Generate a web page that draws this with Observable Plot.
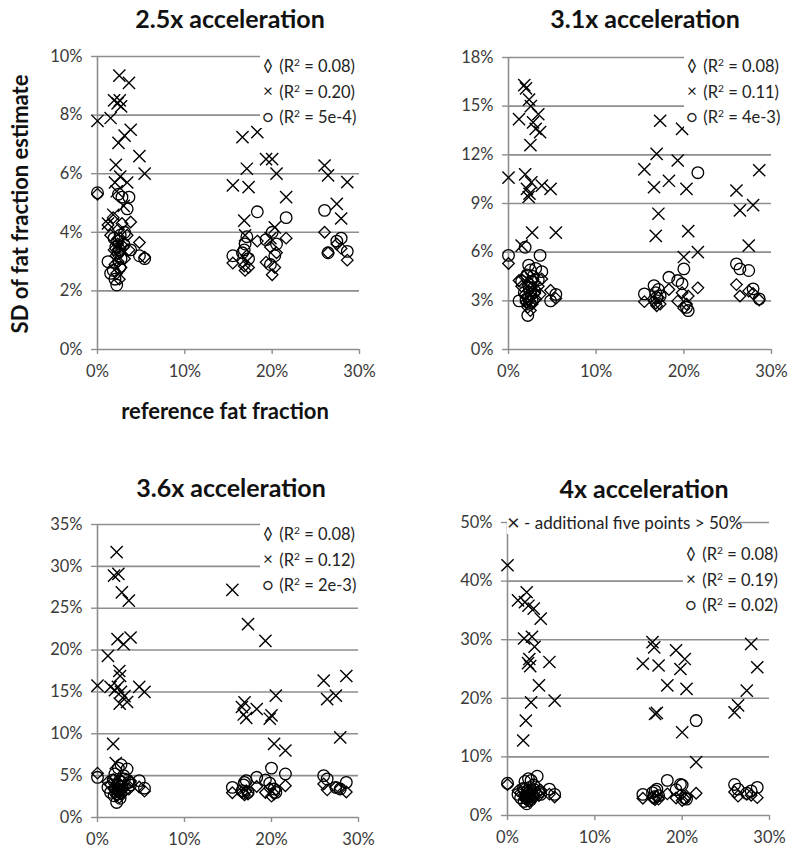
<!DOCTYPE html>
<html>
<head>
<meta charset="utf-8">
<script src="https://cdn.jsdelivr.net/npm/d3@7"></script>
<script src="https://cdn.jsdelivr.net/npm/@observablehq/plot@0.6"></script>
<style>
  html, body { margin: 0; padding: 0; background: #fff; }
  #page { position: relative; width: 800px; height: 853px; overflow: hidden; font-family: Lato, "Open Sans", sans-serif; }
  .panel { position: absolute; }
  .title { position: absolute; transform: translate(-50%, -50%); font-weight: 700; font-size: 25px; color: #111; white-space: nowrap; }
  .axtitle { position: absolute; font-weight: 700; font-size: 22px; color: #111; white-space: nowrap; transform: translate(-50%, -50%); }
  .legend { position: absolute; background: #fff; font-size: 16.5px; color: #222; line-height: 22px; padding-left: 1px; white-space: nowrap; }
  .legend .sym { display: inline-block; width: 14px; text-align: center; font-size: 17px; line-height: 22px; }
  .sup { font-size: 0.62em; vertical-align: 0.55em; }
  .note { position: absolute; background: #fff; font-size: 17px; color: #222; line-height: 23px; white-space: nowrap; }
</style>
</head>
<body>
<div id="page"></div>
<script>
// ---------------- data (values in %) ----------------
// reference fat fraction of each sample (shared by every series and panel)
const REF_FF = [0.0, 1.2, 1.5, 1.8, 1.9, 2.0, 2.1, 2.2, 2.3, 2.35, 2.4, 2.5, 2.55, 2.6, 2.7, 2.8, 3.0, 3.1, 3.4, 3.6, 3.8, 4.8, 5.4,
  15.5, 16.6, 16.8, 16.9, 17.1, 17.3, 18.3, 19.3, 19.8, 20.0, 20.3, 20.5, 21.6,
  26.0, 26.4, 27.4, 27.9, 28.6];

// diamond series (R² = 0.08), identical in all four panels
const SD_DIAMOND = [5.3, 4.25, 3.9, 4.5, 3.4, 2.9, 3.2, 2.6, 3.6, 3.0, 4.1, 2.4, 3.3, 3.8, 2.8, 4.3, 3.5, 3.1, 3.9, 3.4, 4.35, 3.65, 3.15,
  2.95, 3.0, 2.85, 2.7, 3.2, 2.8, 3.7, 2.98, 3.5, 2.55, 2.8, 3.3, 3.8,
  4.0, 3.3, 3.6, 3.45, 3.05];

// 2.5x acceleration
const SD_CROSS_25 = [7.8, 4.3, 7.9, 4.6, 8.5, 5.7, 6.3, 5.4, 8.4, 3.6, 7.05, 9.35, 8.5, 5.9, 8.3, 3.4, 4.9, 7.3, 5.7, 9.1, 7.5, 6.6, 6.0,
  5.6, 7.25, 4.4, 3.9, 6.17, 5.54, 7.42, 6.5, 3.8, 6.5, 4.17, 6.0, 5.2,
  6.28, 5.94, 4.97, 4.47, 5.71];
const SD_CIRCLE_25 = [5.35, 3.0, 2.6, 2.7, 3.8, 2.4, 3.5, 2.2, 3.7, 3.3, 5.3, 3.4, 2.8, 3.9, 3.1, 5.2, 3.6, 4.0, 4.8, 5.2, 3.4, 3.2, 3.1,
  3.2, 3.3, 3.4, 3.6, 3.85, 3.1, 4.7, 3.75, 2.9, 4.0, 3.2, 3.6, 4.5,
  4.75, 3.3, 3.7, 3.8, 3.35];

// 3.1x acceleration
const SD_CROSS_31 = [10.6, 14.2, 6.4, 16.3, 10.8, 16.1, 9.9, 4.3, 9.4, 15.4, 9.6, 12.6, 15.0, 10.3, 7.2, 14.0, 3.8, 13.6, 14.5, 13.4, 10.1, 9.9, 7.2,
  11.1, 10.0, 7.0, 12.06, 8.37, 14.1, 10.4, 11.65, 13.6, 5.7, 9.9, 7.3, 6.0,
  9.8, 8.58, 6.4, 8.9, 11.05];
const SD_CIRCLE_31 = [5.8, 3.0, 4.2, 3.5, 6.3, 3.1, 4.6, 2.1, 5.2, 3.8, 2.9, 4.9, 3.4, 4.2, 3.0, 4.5, 3.6, 5.0, 4.3, 5.8, 4.8, 3.0, 3.4,
  3.43, 3.94, 3.5, 3.2, 3.7, 3.3, 4.45, 4.25, 4.05, 4.97, 2.6, 2.4, 10.9,
  5.28, 4.97, 4.87, 3.74, 3.12];

// 3.6x acceleration
const SD_CROSS_36 = [15.75, 19.3, 15.6, 8.8, 28.9, 15.2, 6.5, 31.7, 21.3, 15.6, 29.1, 17.5, 13.6, 16.9, 15.0, 26.9, 20.7, 14.5, 13.8, 25.9, 21.5, 15.6, 15.0,
  27.2, 13.2, 12.3, 13.75, 11.9, 23.1, 12.96, 21.1, 11.8, 12.2, 8.8, 14.55, 8.0,
  16.35, 14.15, 14.55, 9.57, 16.9];
const SD_CIRCLE_36 = [4.8, 3.6, 3.0, 4.5, 2.6, 5.2, 3.4, 1.8, 4.0, 2.8, 5.9, 3.2, 4.4, 2.3, 6.3, 3.7, 5.0, 4.6, 5.8, 4.2, 3.9, 4.4, 3.5,
  3.6, 3.2, 3.9, 4.2, 4.4, 3.0, 4.8, 4.5, 4.1, 5.9, 3.4, 3.0, 5.2,
  5.0, 4.6, 3.6, 3.4, 4.2];

// 4x acceleration (null = one of the five points above 50%)
const SD_CROSS_4 = [42.7, 36.7, null, 12.8, 30.2, 36.4, 16.2, 38.1, null, 26.0, 35.8, 26.7, null, 25.5, 19.3, 30.5, 35.3, 28.8, null, 22.2, 33.6, 26.2, 19.6,
  25.9, 29.6, 28.7, 17.35, 17.5, 25.6, 22.2, 28.2, 25.0, 14.2, 26.7, 21.6, 9.1,
  17.6, 18.8, 21.3, 29.3, 25.3];
const SD_CIRCLE_4 = [5.5, 3.6, 3.0, 4.6, 2.4, 5.8, 3.2, 2.0, 4.2, 3.0, 6.3, 3.5, 4.8, 2.6, 6.0, 3.8, 5.2, 4.4, 6.7, 4.0, 3.6, 4.5, 3.6,
  3.6, 3.9, 3.2, 4.2, 4.5, 3.4, 6.0, 4.4, 5.3, 5.2, 3.0, 2.8, 16.2,
  5.3, 4.5, 3.8, 4.2, 4.8];

// tick labels
const X_TICKS = [0, 10, 20, 30];
const Y_TICKS_25 = [0, 2, 4, 6, 8, 10];
const Y_TICKS_31 = [0, 3, 6, 9, 12, 15, 18];
const Y_TICKS_36 = [0, 5, 10, 15, 20, 25, 30, 35];
const Y_TICKS_4 = [0, 10, 20, 30, 40, 50];

const TITLES = ["2.5x acceleration", "3.1x acceleration", "3.6x acceleration", "4x acceleration"];
const R2_DIAMOND = "0.08";
const R2_CROSS = ["0.20", "0.11", "0.12", "0.19"];
const R2_CIRCLE = ["5e-4", "4e-3", "2e-3", "0.02"];

// ---------------- layout ----------------
const LAYOUT = [
  {left: 0,   top: 0,   w: 400, h: 390, mt: 56, mb: 41, ml: 97,  mr: 41, title: [230, 18], legend: [260, 51, 106]},
  {left: 400, top: 0,   w: 400, h: 390, mt: 57, mb: 41, ml: 108, mr: 29, title: [645, 18], legend: [684, 51, 96]},
  {left: 0,   top: 430, w: 400, h: 423, mt: 94, mb: 36, ml: 97,  mr: 42, title: [231, 487], legend: [260, 519, 106]},
  {left: 400, top: 430, w: 400, h: 423, mt: 92, mb: 38, ml: 107, mr: 31, title: [644, 488], legend: [683, 539, 96]}
];
const SERIES = [
  {ticks: Y_TICKS_25, cross: SD_CROSS_25, circle: SD_CIRCLE_25},
  {ticks: Y_TICKS_31, cross: SD_CROSS_31, circle: SD_CIRCLE_31},
  {ticks: Y_TICKS_36, cross: SD_CROSS_36, circle: SD_CIRCLE_36},
  {ticks: Y_TICKS_4,  cross: SD_CROSS_4,  circle: SD_CIRCLE_4}
];

const GRID = "#8e8e8e";
const INK = "#000";
const rows = ys => REF_FF.map((x, i) => ({x, y: ys[i]})).filter(d => d.y != null);
const pct = d => d + "%";

const page = document.getElementById("page");

SERIES.forEach((s, k) => {
  const L = LAYOUT[k];
  const ymax = s.ticks[s.ticks.length - 1];
  const chart = Plot.plot({
    width: L.w, height: L.h,
    marginTop: L.mt, marginBottom: L.mb, marginLeft: L.ml, marginRight: L.mr,
    style: {fontFamily: "Lato, 'Open Sans', sans-serif", fontSize: "16.5px", color: "#3a3a3a", background: "transparent", overflow: "visible"},
    x: {domain: [0, 30]},
    y: {domain: [0, ymax]},
    marks: [
      Plot.ruleY(s.ticks, {stroke: GRID, strokeWidth: 1.6}),
      Plot.ruleX([0], {stroke: GRID, strokeWidth: 1.6}),
      Plot.axisX({ticks: X_TICKS, tickFormat: pct, tickSize: 5, tickPadding: 11, stroke: GRID, strokeWidth: 1.4, label: null}),
      Plot.axisY({ticks: s.ticks, tickFormat: pct, tickSize: 6, tickPadding: 9, stroke: GRID, strokeWidth: 1.4, label: null}),
      Plot.dot(rows(SD_DIAMOND), {x: "x", y: "y", symbol: "diamond2", r: 5.2, stroke: INK, strokeWidth: 1.3, fill: "none"}),
      Plot.dot(rows(s.cross), {x: "x", y: "y", symbol: "times", r: 5.6, stroke: INK, strokeWidth: 1.4, fill: "none"}),
      Plot.dot(rows(s.circle), {x: "x", y: "y", symbol: "circle", r: 5.8, stroke: INK, strokeWidth: 1.3, fill: "none"})
    ]
  });
  const holder = document.createElement("div");
  holder.className = "panel";
  holder.style.left = L.left + "px";
  holder.style.top = L.top + "px";
  holder.appendChild(chart);
  page.appendChild(holder);

  const t = document.createElement("div");
  t.className = "title";
  t.style.left = L.title[0] + "px";
  t.style.top = L.title[1] + "px";
  t.textContent = TITLES[k];
  page.appendChild(t);

  const lg = document.createElement("div");
  lg.className = "legend";
  lg.style.left = L.legend[0] + "px";
  lg.style.top = L.legend[1] + "px";
  lg.style.width = L.legend[2] + "px";
  lg.innerHTML =
    `<div><span class="sym">◊</span> (R<span class="sup">2</span> = ${R2_DIAMOND})</div>` +
    `<div><span class="sym">×</span> (R<span class="sup">2</span> = ${R2_CROSS[k]})</div>` +
    `<div><span class="sym">○</span> (R<span class="sup">2</span> = ${R2_CIRCLE[k]})</div>`;
  page.appendChild(lg);
});

// axis titles (first panel)
const yt = document.createElement("div");
yt.className = "axtitle";
yt.style.left = "19px"; yt.style.top = "204px";
yt.style.transform = "translate(-50%, -50%) rotate(-90deg)";
yt.textContent = "SD of fat fraction estimate";
page.appendChild(yt);

const xt = document.createElement("div");
xt.className = "axtitle";
xt.style.left = "225px"; xt.style.top = "410px";
xt.textContent = "reference fat fraction";
page.appendChild(xt);

// note in the 4x panel
const note = document.createElement("div");
note.className = "note";
note.style.left = "507px"; note.style.top = "510px";
note.style.width = "231px"; note.style.height = "24px";
note.innerHTML = `<span style="font-size:22px;vertical-align:-1px">×</span> - additional five points &gt; 50%`;
page.appendChild(note);
</script>
</body>
</html>
